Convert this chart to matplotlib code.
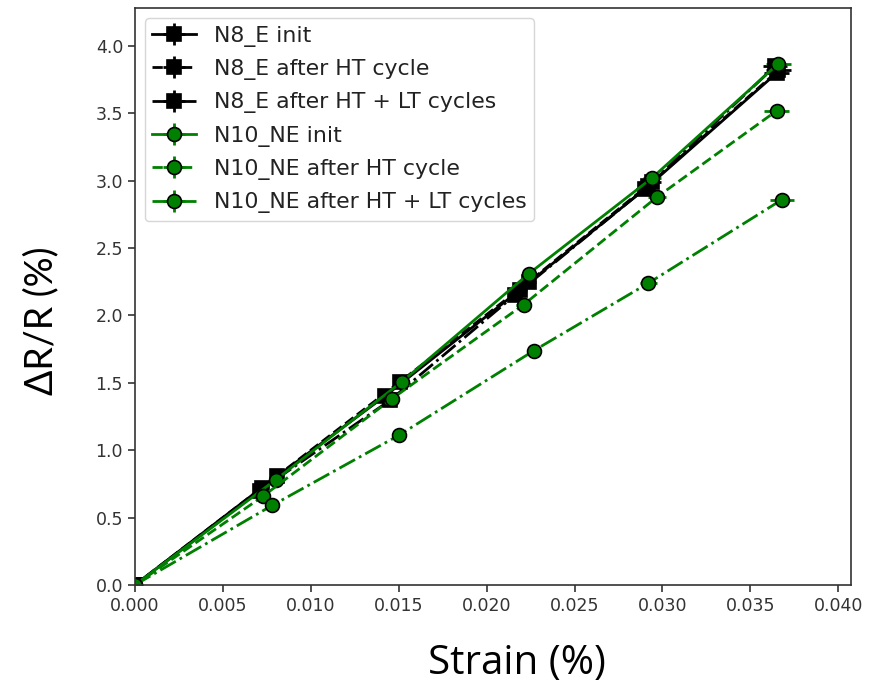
import matplotlib
matplotlib.use("Agg")
import matplotlib.pyplot as plt

# ---- data ----
labels = ["N8_E init", "N8_E after HT cycle", "N8_E after HT + LT cycles",
          "N10_NE init", "N10_NE after HT cycle", "N10_NE after HT + LT cycles"]

n8_init_x = [0, 0.0072, 0.0142, 0.0219, 0.0292, 0.0365]
n8_init_y = [0, 0.72, 1.40, 2.19, 2.96, 3.80]
n8_ht_x = [0, 0.0081, 0.0151, 0.0224, 0.0294, 0.0366]
n8_ht_y = [0, 0.81, 1.51, 2.25, 2.99, 3.82]
n8_htlt_x = [0, 0.0071, 0.0145, 0.0216, 0.0290, 0.0364]
n8_htlt_y = [0, 0.70, 1.37, 2.15, 2.94, 3.85]

n10_init_x = [0, 0.0080, 0.0152, 0.0224, 0.0294, 0.0366]
n10_init_y = [0, 0.78, 1.51, 2.31, 3.02, 3.87]
n10_ht_x = [0, 0.0073, 0.0146, 0.0221, 0.0297, 0.0365]
n10_ht_y = [0, 0.66, 1.38, 2.08, 2.88, 3.52]
n10_htlt_x = [0, 0.0078, 0.0150, 0.0227, 0.0292, 0.0368]
n10_htlt_y = [0, 0.59, 1.11, 1.74, 2.24, 2.86]

x_err = [0, 0.0002, 0.0003, 0.0004, 0.0005, 0.0007]
y_err = [0, 0.02, 0.02, 0.03, 0.03, 0.03]

xticks = [0.000, 0.005, 0.010, 0.015, 0.020, 0.025, 0.030, 0.035, 0.040]
yticks = [0.0, 0.5, 1.0, 1.5, 2.0, 2.5, 3.0, 3.5, 4.0]

series = [
    (n8_init_x, n8_init_y, "black", "s", "-"),
    (n8_ht_x, n8_ht_y, "black", "s", "--"),
    (n8_htlt_x, n8_htlt_y, "black", "s", "-."),
    (n10_init_x, n10_init_y, "green", "o", "-"),
    (n10_ht_x, n10_ht_y, "green", "o", "--"),
    (n10_htlt_x, n10_htlt_y, "green", "o", "-."),
]

fig = plt.figure(figsize=(8.76, 6.89), dpi=100)
ax = fig.add_axes([0.154, 0.151, 0.817, 0.837])

for (x, y, c, m, ls), lab in zip(series, labels):
    ax.errorbar(x, y, xerr=x_err, yerr=y_err, color=c, marker=m, ls=ls, lw=2,
                markersize=10, markerfacecolor=c, markeredgecolor="black",
                markeredgewidth=1.2, elinewidth=2, ecolor="black" if c == "black" else c,
                label=lab)

ax.set_xlim(0, 0.0407)
ax.set_ylim(0, 4.28)
ax.set_xticks(xticks)
ax.set_yticks(yticks)
ax.set_xticklabels([f"{v:.3f}" for v in xticks])
ax.set_yticklabels([f"{v:.1f}" for v in yticks])
ax.tick_params(labelsize=12.5, colors="#333333", length=5, width=1.2)
for s in ax.spines.values():
    s.set_color("#333333")
    s.set_linewidth(1.2)

leg = ax.legend(loc="upper left", fontsize=15.8, handlelength=2.0,
                borderaxespad=0.45, labelspacing=0.56, borderpad=0.35)
for t in leg.get_texts():
    t.set_color("#222222")

fig.text(0.59, 0.037, "Strain (%)", fontsize=29, family="Open Sans", ha="center", va="center")
fig.text(0.047, 0.535, "ΔR/R (%)", fontsize=27, family="Lato", rotation=90,
         ha="center", va="center")

fig.savefig("out.png", dpi=100)
